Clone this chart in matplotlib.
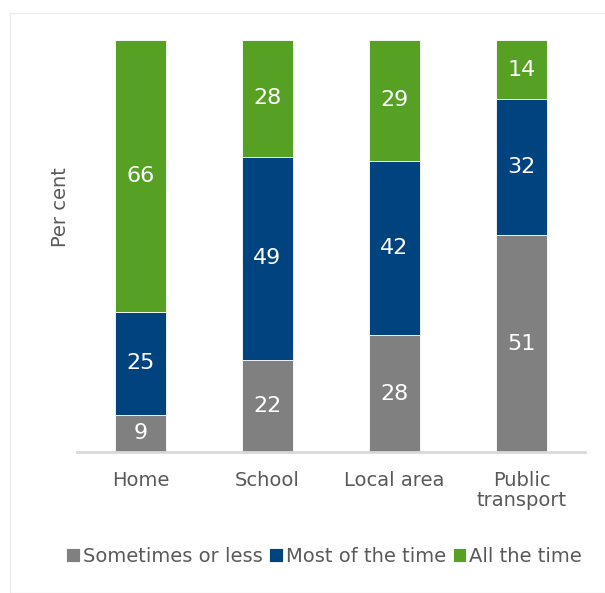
import numpy as np
import matplotlib.pyplot as plt
from matplotlib.patches import Rectangle

categories = ['Home', 'School', 'Local area', 'Public\ntransport']
sometimes = [9, 22, 28, 51]
most = [25, 49, 42, 32]
all_time = [66, 28, 29, 14]

series = [sometimes, most, all_time]
names = ['Sometimes or less', 'Most of the time', 'All the time']
colors = ['#808080', '#00437F', '#56A024']

fig = plt.figure(figsize=(6.05, 5.93), dpi=100)
ax = fig.add_axes([77/605, 1-452/593, 508/605, 412/593])

# faint frame round the chart
fig.patches.append(Rectangle((10/605, 0), 1, 1-13/593, transform=fig.transFigure,
                             fill=False, edgecolor='#EBEBEB', linewidth=1))

# 100% stacked: scale each column to its total (rounded values)
totals = np.sum(series, axis=0)
x = np.arange(len(categories))
bottom = np.zeros(len(categories))
handles = []
for vals, name, col in zip(series, names, colors):
    h = np.array(vals) / totals * 100
    bars = ax.bar(x, h, width=0.4, bottom=bottom, color=col,
                  edgecolor='white', linewidth=0.6, label=name)
    handles.append(bars)
    for xi, b, hh, v in zip(x, bottom, h, vals):
        ax.text(xi, b + hh/2, str(v), ha='center', va='center',
                color='white', fontsize=16)
    bottom += h

ax.set_xlim(-0.5, 3.5)
ax.set_ylim(0, 100)
for s in ['top', 'right', 'left']:
    ax.spines[s].set_visible(False)
ax.spines['bottom'].set_color('#D9D9D9')
ax.spines['bottom'].set_linewidth(2)
ax.set_yticks([])
ax.set_xticks(x)
ax.set_xticklabels(categories, fontsize=14, color='#595959', linespacing=1.05)
ax.tick_params(axis='x', length=0, pad=14)

fig.text(60/605, 1-207/593, 'Per cent', rotation=90, ha='center', va='center',
         fontsize=14, color='#595959')

fig.legend(handles=handles, labels=names, loc='center', bbox_to_anchor=(324/605, 1-556/593),
           ncol=3, frameon=False, fontsize=14, handlelength=0.7, handleheight=0.7,
           handletextpad=0.15, columnspacing=0.35, labelcolor='#595959')

fig.savefig('out.png', dpi=100)
